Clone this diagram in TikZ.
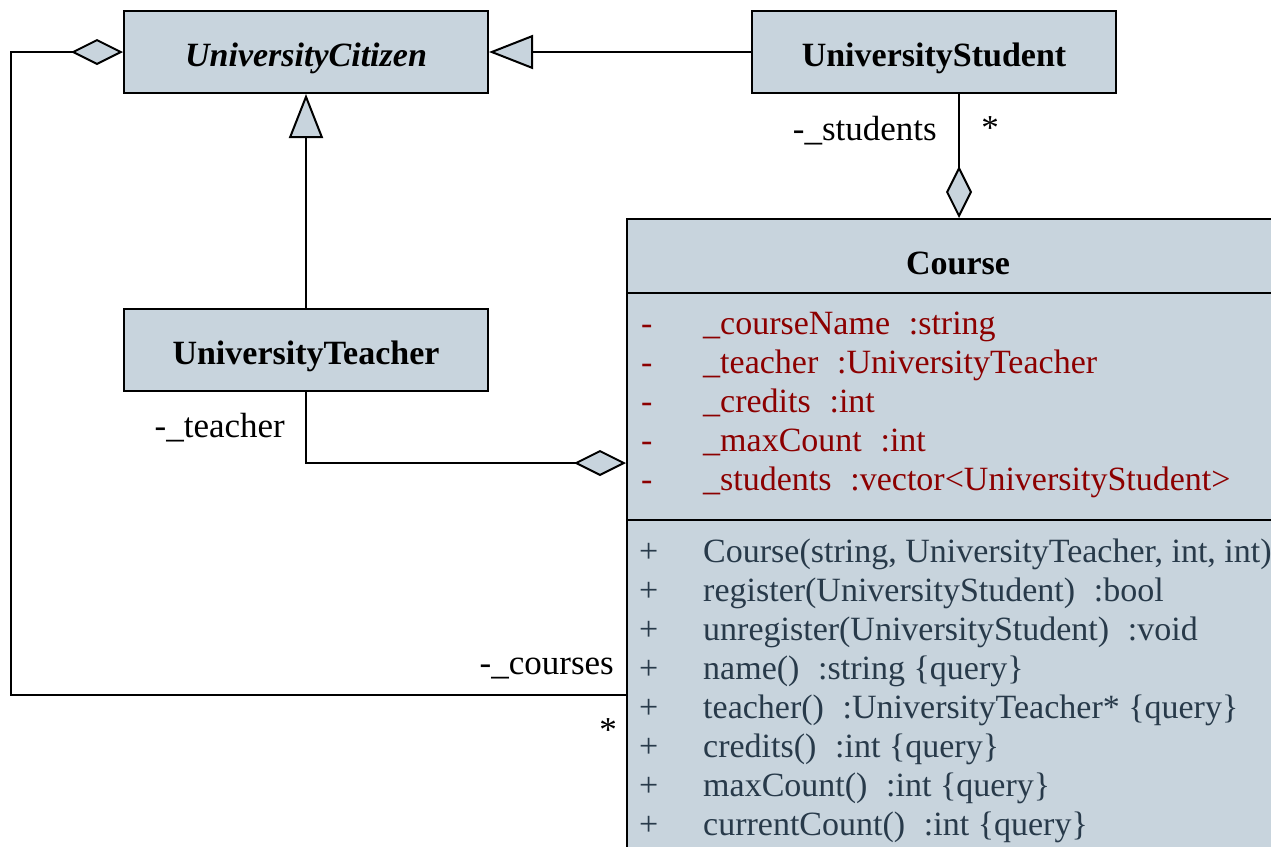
\documentclass[tikz,border=0pt]{standalone}
\usepackage{fontspec}
\setmainfont{Liberation Serif}
\usetikzlibrary{arrows.meta}

\definecolor{umlfill}{RGB}{200,212,221}
\definecolor{attrred}{RGB}{140,0,0}
\definecolor{opsblue}{RGB}{40,58,74}
\newcommand{\colgap}{\hspace{0.55em}}

\tikzset{
  classbox/.style={draw, fill=umlfill, line width=2pt, inner sep=0pt,
                   text height=30pt, text depth=2pt,
                   font=\fontsize{34}{36}\selectfont\bfseries},
  gen/.style={line width=2pt, -{Triangle[fill=umlfill, length=44pt, width=34pt]}},
  agg/.style={line width=2pt, -{Diamond[fill=umlfill, length=52pt, width=26pt]}},
  rolelabel/.style={inner sep=0pt, font=\fontsize{35}{36}\selectfont},
  member/.style={inner sep=0pt, anchor=west, text height=24pt, text depth=7pt,
                 font=\fontsize{34}{36}\selectfont}
}

\begin{document}
\begin{tikzpicture}[x=1pt, y=-1pt]

            %\draw [help lines] (0,0) grid (1271,846);
            \path[use as bounding box, clip] (0,0) rectangle (1271,846);

            \path   (306,52)  node (citizen) [classbox, minimum width=364, minimum height=82] {\itshape UniversityCitizen}
                    (934,52)  node (student) [classbox, minimum width=364, minimum height=82] {UniversityStudent}
                    (306,350) node (teacher) [classbox, minimum width=364, minimum height=82] {UniversityTeacher}
                    (626,218) node (course)  [classbox, minimum width=664, minimum height=680, anchor=north west] {};

            \node (course-title) [rolelabel, text height=30pt, text depth=2pt, font=\fontsize{34}{36}\selectfont\bfseries] at (958,260) {Course};
            \draw[line width=2pt] ([yshift=-75pt]course.north west) -- ([yshift=-75pt]course.north east);
            \draw[line width=2pt] ([yshift=-302pt]course.north west) -- ([yshift=-302pt]course.north east);

            % attributes
            \foreach \txt [count=\i] in {\_courseName\colgap:string, \_teacher\colgap:UniversityTeacher,
                    \_credits\colgap:int, \_maxCount\colgap:int, \_students\colgap:vector<UniversityStudent>} {
                \node (attr-vis-\i) [member, text=attrred] at (641,287+39*\i) {-};
                \node (attr-\i) [member, text=attrred] at (703,287+39*\i) {\txt};
            }

            % operations
            \foreach \txt [count=\i] in {{Course(string, UniversityTeacher, int, int)},
                    register(UniversityStudent)\colgap:bool, unregister(UniversityStudent)\colgap:void,
                    name()\colgap:string \{query\}, teacher()\colgap:UniversityTeacher* \{query\},
                    credits()\colgap:int \{query\}, maxCount()\colgap:int \{query\},
                    currentCount()\colgap:int \{query\}} {
                \node (op-vis-\i) [member, text=opsblue] at (639,515+39*\i) {+};
                \node (op-\i) [member, text=opsblue] at (703,515+39*\i) {\txt};
            }

            \draw[gen] (student) -- (citizen);
            \draw[gen] (teacher) -- (citizen);
            \draw[agg] (course.north |- student.south) -- (course.north);
            \draw[agg] (teacher.south) |- ([yshift=-245pt]course.north west);
            \draw[agg] ([yshift=-477pt]course.north west) -| ([xshift=-112pt]citizen.west) -- (citizen.west);

            \node (students-role) [rolelabel, anchor=east] at (937,131) {-\_students};
            \node (students-mult) [rolelabel] at (990,128) {*};
            \node (teacher-role)  [rolelabel, anchor=east] at (285,428) {-\_teacher};
            \node (courses-role)  [rolelabel, anchor=east] at (614,668) {-\_courses};
            \node (courses-mult)  [rolelabel] at (608,730) {*};
        \end{tikzpicture}
\end{document}
